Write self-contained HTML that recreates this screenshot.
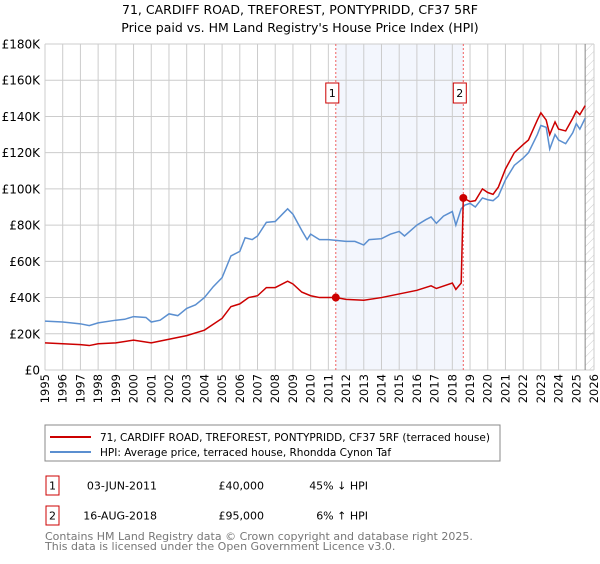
<!DOCTYPE html>
<html><head><meta charset="utf-8"><style>
body{margin:0;background:#fff;font-family:"DejaVu Sans","Liberation Sans",sans-serif;}
svg text{font-family:"DejaVu Sans","Liberation Sans",sans-serif;}
</style></head><body>
<svg id="c" width="600" height="560" xmlns="http://www.w3.org/2000/svg">
<defs><pattern id="hatch" width="6" height="6" patternUnits="userSpaceOnUse" patternTransform="rotate(45)"><line x1="0" y1="0" x2="0" y2="6" stroke="#ccc" stroke-width="1"/></pattern></defs>
<text x="300" y="14" text-anchor="middle" font-size="12.5">71, CARDIFF ROAD, TREFOREST, PONTYPRIDD, CF37 5RF</text>
<text x="300" y="32" text-anchor="middle" font-size="12.5">Price paid vs. HM Land Registry's House Price Index (HPI)</text>
<g id="plot"></g>
<rect x="45" y="425" width="455" height="36" fill="#fff" stroke="#888"/>
<line x1="50" y1="437" x2="91" y2="437" stroke="#cc0000" stroke-width="2"/>
<text x="100" y="441" font-size="10.5">71, CARDIFF ROAD, TREFOREST, PONTYPRIDD, CF37 5RF (terraced house)</text>
<line x1="50" y1="452" x2="91" y2="452" stroke="#5b8fd0" stroke-width="2"/>
<text x="100" y="456" font-size="10.5">HPI: Average price, terraced house, Rhondda Cynon Taf</text>
<g>
<rect x="46" y="476" width="13" height="19" fill="#fff" stroke="#cc0000"/>
<text x="52.5" y="489.5" font-size="11" text-anchor="middle">1</text>
<text x="157" y="489.5" font-size="11" text-anchor="end">03-JUN-2011</text>
<text x="264" y="489.5" font-size="11" text-anchor="end">£40,000</text>
<text x="368" y="489.5" font-size="11" text-anchor="end">45% ↓ HPI</text>
</g>
<g>
<rect x="46" y="506" width="13" height="19" fill="#fff" stroke="#cc0000"/>
<text x="52.5" y="519.5" font-size="11" text-anchor="middle">2</text>
<text x="157" y="519.5" font-size="11" text-anchor="end">16-AUG-2018</text>
<text x="264" y="519.5" font-size="11" text-anchor="end">£95,000</text>
<text x="368" y="519.5" font-size="11" text-anchor="end">6% ↑ HPI</text>
</g>
<text x="45" y="540" font-size="11" fill="#777">Contains HM Land Registry data © Crown copyright and database right 2025.</text>
<text x="45" y="550" font-size="11" fill="#777">This data is licensed under the Open Government Licence v3.0.</text>
</svg>
<script>
const yearTicks=[1995,1996,1997,1998,1999,2000,2001,2002,2003,2004,2005,2006,2007,2008,2009,2010,2011,2012,2013,2014,2015,2016,2017,2018,2019,2020,2021,2022,2023,2024,2025,2026];
const valueTicks=[0,20000,40000,60000,80000,100000,120000,140000,160000,180000];
const valueTickLabels=["£0","£20K","£40K","£60K","£80K","£100K","£120K","£140K","£160K","£180K"];
const hpiDates=[1995,1996,1997,1997.5,1998,1999,1999.5,2000,2000.7,2001,2001.5,2002,2002.5,2003,2003.5,2004,2004.5,2005,2005.5,2006,2006.3,2006.7,2007,2007.5,2008,2008.5,2008.7,2009,2009.5,2009.8,2010,2010.5,2011,2011.5,2012,2012.5,2013,2013.3,2014,2014.5,2015,2015.3,2016,2016.5,2016.8,2017.1,2017.5,2018,2018.2,2018.5,2018.7,2019,2019.3,2019.7,2020,2020.3,2020.6,2021,2021.5,2022,2022.3,2022.8,2023,2023.3,2023.5,2023.8,2024,2024.4,2024.8,2025,2025.2,2025.5];
const hpiValues=[27000,26500,25500,24500,26000,27500,28000,29500,29000,26500,27500,31000,30000,34000,36000,40000,46000,51000,63000,65500,73000,72000,74000,81500,82000,87000,89000,86000,77000,72000,75000,72000,72000,71500,71000,71000,69000,72000,72500,75000,76500,74000,80000,83000,84500,81000,85000,87500,80000,89000,91000,92000,90000,95000,94000,93500,96000,105000,113000,117000,120000,130000,135000,134000,122000,130000,127000,125000,131000,136000,133000,139000];
const priceDates=[1995,1996,1997,1997.5,1998,1999,2000,2001,2002,2003,2004,2005,2005.5,2006,2006.5,2007,2007.5,2008,2008.7,2009,2009.5,2010,2010.5,2011.42,2012,2013,2014,2015,2016,2016.8,2017.1,2018,2018.2,2018.5,2018.62,2019,2019.3,2019.7,2020,2020.3,2020.6,2021,2021.5,2022,2022.3,2022.8,2023,2023.3,2023.5,2023.8,2024,2024.4,2024.8,2025,2025.2,2025.5];
const priceValues=[15000,14500,14000,13500,14500,15000,16500,15000,17000,19000,22000,28500,35000,36500,40000,41000,45500,45500,49000,47500,43000,41000,40000,40000,39000,38500,40000,42000,44000,46500,45000,48000,44500,48000,95000,93000,93500,100000,98000,97000,101000,111000,120000,124500,127000,138000,142000,138000,130000,137000,133000,132000,139000,143000,141000,146000];
const saleDates=[2011.42,2018.62];
const saleValues=[40000,95000];
const saleLabels=["1","2"];

const NS="http://www.w3.org/2000/svg";
const X0=45,X1=594,Y0=370,Y1=44;
const xs=d=>X0+(d-1995)/(2026-1995)*(X1-X0);
const ys=v=>Y0-v/180000*(Y0-Y1);
const g=document.getElementById('plot');
function mk(t,a){const e=document.createElementNS(NS,t);for(const k in a)e.setAttribute(k,a[k]);g.appendChild(e);return e;}
let e;
e=mk('rect',{x:xs(saleDates[0]),y:Y1,width:xs(saleDates[1])-xs(saleDates[0]),height:Y0-Y1,fill:'#f3f6fd'});


yearTicks.forEach(y=>{
 e=mk('line',{x1:xs(y),x2:xs(y),y1:Y1,y2:Y0,stroke:'#ccc','stroke-width':1});
 
 
 e=mk('text',{x:0,y:0,'font-size':11.5,'text-anchor':'end',transform:`translate(${xs(y)+4},${Y0+4}) rotate(-90)`});
 e.textContent=y;
 
 
});
valueTicks.forEach((v,i)=>{
 e=mk('line',{x1:X0,x2:X1,y1:ys(v),y2:ys(v),stroke:'#ccc','stroke-width':1});
 
 
 e=mk('text',{x:40,y:ys(v)+4.5,'font-size':12,'text-anchor':'end'});
 e.textContent=valueTickLabels[i];
 
 
});
e=mk('rect',{x:xs(2025.5),y:Y1,width:X1-xs(2025.5),height:Y0-Y1,fill:'url(#hatch)'});


e=mk('line',{x1:xs(2025.5),x2:xs(2025.5),y1:Y1,y2:Y0,stroke:'#888','stroke-width':1});


saleDates.forEach((d,i)=>{
 e=mk('line',{x1:xs(d),x2:xs(d),y1:Y1,y2:Y0,stroke:'#f06060','stroke-width':1,'stroke-dasharray':'2,2'});
 
 
});
e=mk('polyline',{points:hpiDates.map((d,i)=>xs(d)+','+ys(hpiValues[i])).join(' '),fill:'none',stroke:'#5b8fd0','stroke-width':1.5});


e=mk('polyline',{points:priceDates.map((d,i)=>xs(d)+','+ys(priceValues[i])).join(' '),fill:'none',stroke:'#cc0000','stroke-width':1.5});


saleDates.forEach((d,i)=>{
 e=mk('circle',{cx:xs(d),cy:ys(saleValues[i]),r:4,fill:'#cc0000'});
 
 
 e=mk('rect',{x:xs(d)-10,y:83,width:13,height:20,fill:'#fff',stroke:'#cc0000'});
 
 
 e=mk('text',{x:xs(d)-3.5,y:97,'font-size':11,'text-anchor':'middle'});
 e.textContent=saleLabels[i];
 
 
});
</script>
</body></html>
